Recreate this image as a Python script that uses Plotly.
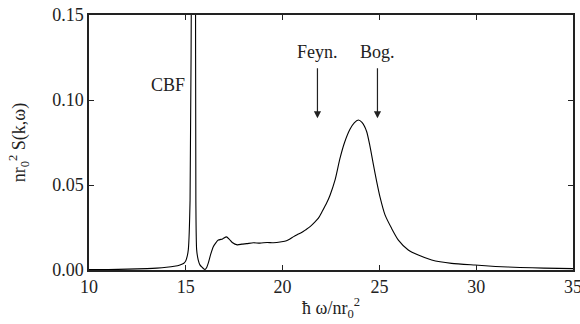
import plotly.graph_objects as go

omega = [10, 11, 12, 13, 13.5, 14, 14.4, 14.7, 14.9, 15.0, 15.07, 15.13, 15.22, 15.30, 15.41, 15.50, 15.52,
         15.56, 15.64, 15.73, 15.85, 15.99, 16.08, 16.16, 16.28, 16.42, 16.55, 16.68, 16.9, 17.1, 17.25,
         17.4, 17.66, 17.9, 18.15, 18.49, 18.83, 19.2, 19.52, 19.95, 20.2, 20.38, 20.55, 20.75, 20.98,
         21.2, 21.42, 21.65, 21.85, 22.05, 22.28, 22.45, 22.71, 22.96, 23.2, 23.48, 23.7, 23.91, 24.1,
         24.34, 24.51, 24.69, 24.86, 25.03, 25.29, 25.63, 25.98, 26.49, 27.01, 27.7, 28.73, 29.94,
         31.0, 32.26, 33.5, 35]
S = [0.0002, 0.0003, 0.0005, 0.0008, 0.0011, 0.0016, 0.0022, 0.003, 0.004, 0.0055, 0.008, 0.012,
     0.041, 0.2, 0.6, 0.2, 0.04, 0.012, 0.006, 0.003, 0.0015, 0.0003, 0.0015, 0.004, 0.009, 0.0137,
     0.016, 0.0176, 0.0183, 0.0195, 0.018, 0.0162, 0.0148, 0.0152, 0.0155, 0.016, 0.0158, 0.0162,
     0.016, 0.0166, 0.0172, 0.0182, 0.0195, 0.0208, 0.022, 0.0237, 0.0255, 0.028, 0.0305, 0.0345,
     0.0395, 0.044, 0.053, 0.0655, 0.075, 0.0828, 0.0866, 0.0882, 0.0868, 0.0815, 0.073, 0.062,
     0.052, 0.043, 0.0324, 0.0245, 0.0176, 0.0118, 0.0088, 0.0059, 0.0039, 0.0029, 0.0021, 0.0015,
     0.0011, 0.0008]

x_ticks = [10, 15, 20, 25, 30, 35]
y_ticks = [0.00, 0.05, 0.10, 0.15]

labels = ["CBF", "Feyn.", "Bog."]
label_x = [14.1, 21.8, 24.9]
label_y = [0.109, 0.128, 0.128]
arrow_x = [21.8, 24.9]
arrow_top = 0.1195
arrow_tip = 0.0892

FONT = "Liberation Serif, Times New Roman, serif"
FS = 18

fig = go.Figure()
fig.add_trace(go.Scatter(x=omega, y=S, mode="lines",
                         line=dict(color="black", width=1.1, shape="spline", smoothing=0.6),
                         showlegend=False))

for t, xx, yy in zip(labels, label_x, label_y):
    fig.add_annotation(x=xx, y=yy, text=t, showarrow=False,
                       font=dict(family=FONT, size=FS, color="#222"))
for ax_ in arrow_x:
    fig.add_annotation(x=ax_, y=arrow_tip, ax=ax_, ay=arrow_top, xref="x", yref="y",
                       axref="x", ayref="y", text="", showarrow=True,
                       arrowhead=2, arrowsize=1.2, arrowwidth=1.2, arrowcolor="#222")

fig.update_layout(
    width=580, height=324,
    margin=dict(l=89, r=7, t=15, b=54, autoexpand=False),
    paper_bgcolor="white", plot_bgcolor="white",
    font=dict(family=FONT, size=FS, color="#222"),
    xaxis=dict(range=[10, 35], tickvals=x_ticks, ticktext=[str(v) for v in x_ticks],
               ticks="inside", ticklen=5, tickcolor="#222", showgrid=False, zeroline=False,
               showline=True, linecolor="#222", linewidth=1.5, mirror="ticks", automargin=False,
               ticklabeloverflow="allow",
               title=dict(text="ħ ω/nr<sub>0</sub><sup>2</sup>", standoff=5,
                          font=dict(family=FONT, size=FS))),
    yaxis=dict(range=[0, 0.15], tickvals=y_ticks, ticktext=["%.2f" % v for v in y_ticks],
               ticks="inside", ticklen=5, tickcolor="#222", showgrid=False, zeroline=False,
               showline=True, linecolor="#222", linewidth=1.5, mirror="ticks", automargin=False,
               ticklabeloverflow="allow",
               title=dict(text="nr<sub>0</sub><sup>2</sup> S(k,ω)", standoff=22,
                          font=dict(family=FONT, size=FS))),
)

fig.write_html("out.html", config={"displayModeBar": False},
               post_script="document.body.style.margin='0';document.body.style.overflow='hidden';")
